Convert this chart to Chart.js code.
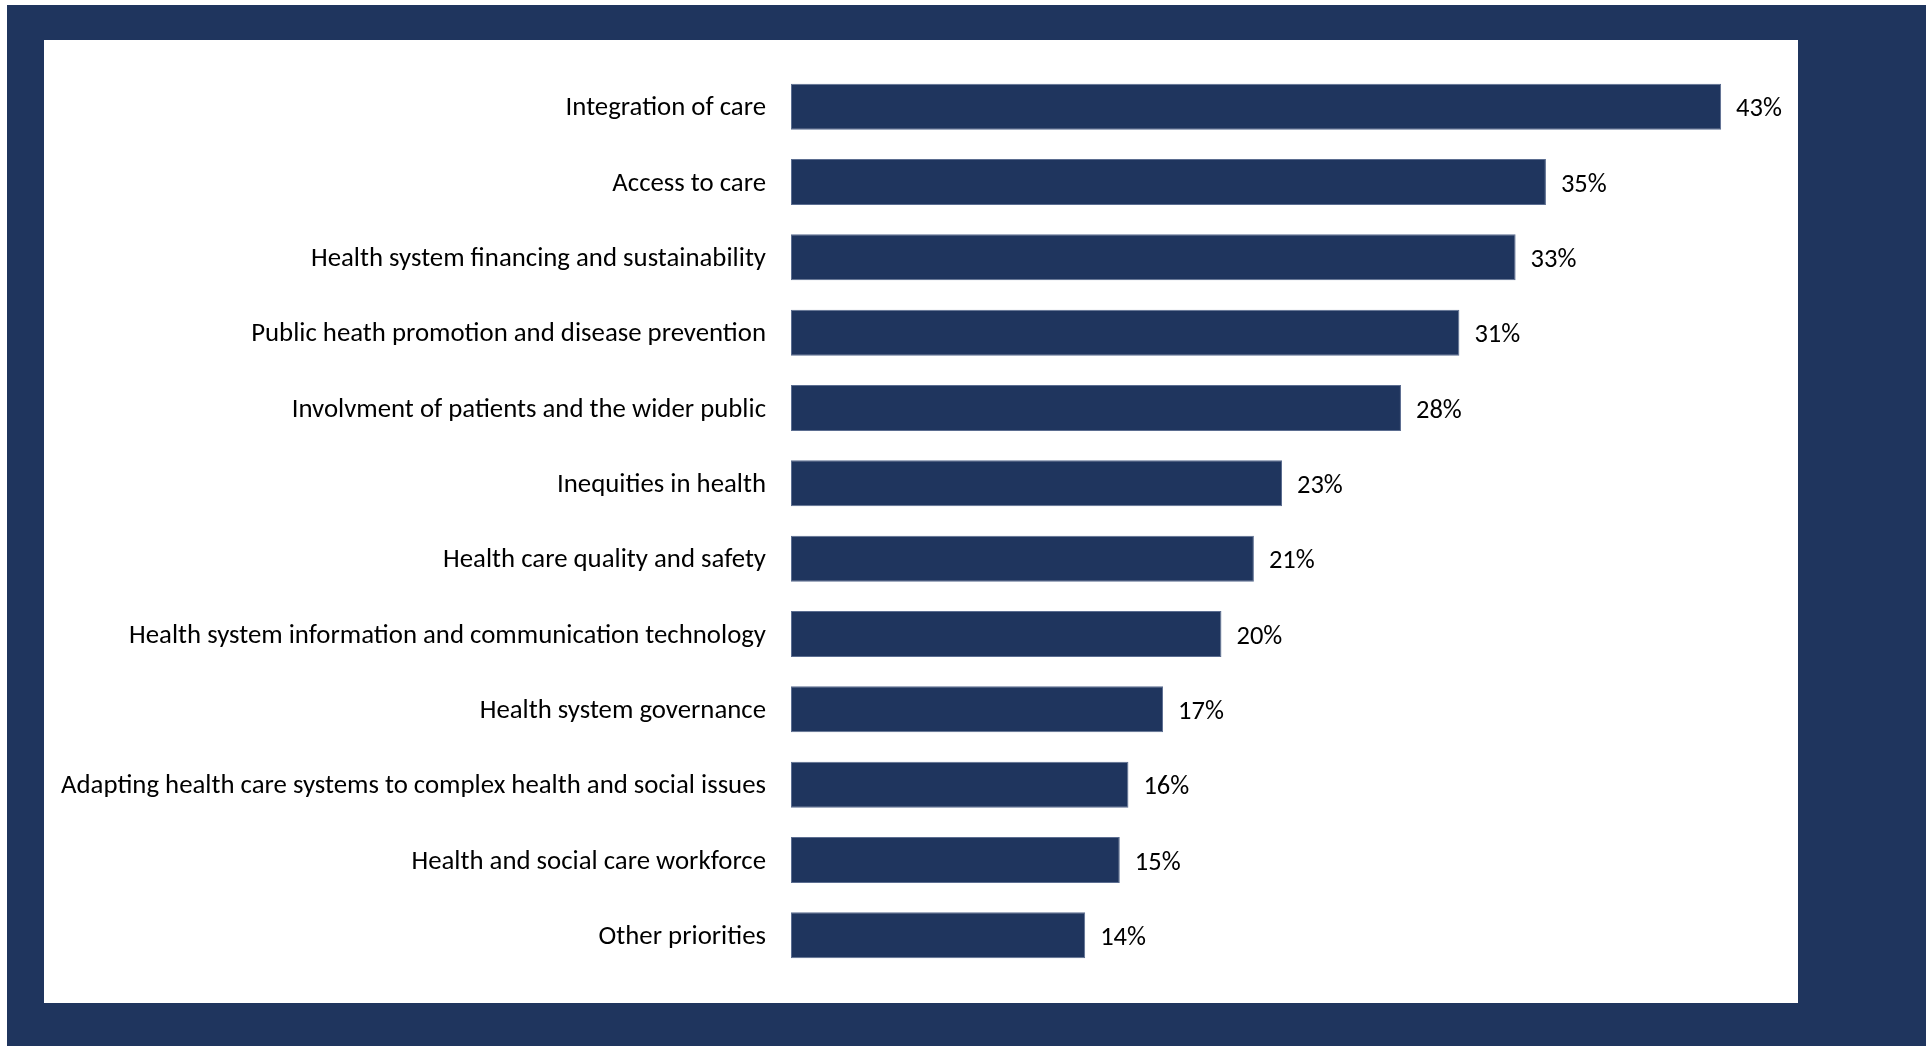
<!DOCTYPE html>
<html>
<head>
<meta charset="utf-8">
<script src="https://cdn.jsdelivr.net/npm/chart.js@4"></script>
<style>
  html, body { margin: 0; padding: 0; background: #ffffff; }
  body { width: 1926px; height: 1046px; position: relative; overflow: hidden; }
  #frame { position: absolute; left: 7px; top: 5px; width: 1919px; height: 1041px; background: #1f355e; }
  #panel { position: absolute; left: 44px; top: 40px; width: 1754px; height: 963px; background: #ffffff; }
  #prioChart { display: block; }
</style>
</head>
<body>
<div id="frame"></div>
<div id="panel"><canvas id="prioChart" width="1754" height="963"></canvas></div>
<script>
// ---------------- DATA ----------------
const categories = [
  'Integration of care',
  'Access to care',
  'Health system financing and sustainability',
  'Public heath promotion and disease prevention',
  'Involvment of patients and the wider public',
  'Inequities in health',
  'Health care quality and safety',
  'Health system information and communication technology',
  'Health system governance',
  'Adapting health care systems to complex health and social issues',
  'Health and social care workforce',
  'Other priorities'
];
const shares = [43, 34.9, 33.5, 30.9, 28.2, 22.7, 21.4, 19.9, 17.2, 15.6, 15.2, 13.6];
const shareLabels = ['43%', '35%', '33%', '31%', '28%', '23%', '21%', '20%', '17%', '16%', '15%', '14%'];

const NAVY = '#1f355e';
const FONT = 'Carlito, Calibri, Lato, sans-serif';

// value labels at the end of each bar
const endLabels = {
  id: 'endLabels',
  afterDatasetsDraw(chart) {
    const ctx = chart.ctx;
    const meta = chart.getDatasetMeta(0);
    ctx.save();
    ctx.font = '26.5px ' + FONT;
    ctx.fillStyle = '#000000';
    ctx.textAlign = 'left';
    ctx.textBaseline = 'middle';
    meta.data.forEach((bar, i) => {
      ctx.fillText(shareLabels[i], bar.x + 15, bar.y + 3);
    });
    ctx.restore();
  }
};

const ctx = document.getElementById('prioChart').getContext('2d');
new Chart(ctx, {
  type: 'bar',
  data: {
    labels: categories,
    datasets: [{
      data: shares,
      backgroundColor: NAVY,
      borderColor: '#5b6d90',
      borderWidth: 1,
      borderSkipped: false,
      barPercentage: 0.61,
      categoryPercentage: 1
    }]
  },
  options: {
    indexAxis: 'y',
    responsive: false,
    animation: false,
    layout: { padding: { top: 29, bottom: 30, left: 0, right: 12 } },
    plugins: {
      legend: { display: false },
      tooltip: { enabled: false }
    },
    scales: {
      x: {
        display: false,
        min: 0,
        max: 46
      },
      y: {
        border: { display: false },
        grid: { display: false, drawTicks: false },
        ticks: {
          color: '#000000',
          padding: 25,
          labelOffset: 2,
          font: { family: FONT, size: 26.8 }
        },
        afterFit(scale) {
          scale.width = 747;
          scale.paddingTop = 0;
          scale.paddingBottom = 0;
        }
      }
    }
  },
  plugins: [endLabels]
});
</script>
</body>
</html>
